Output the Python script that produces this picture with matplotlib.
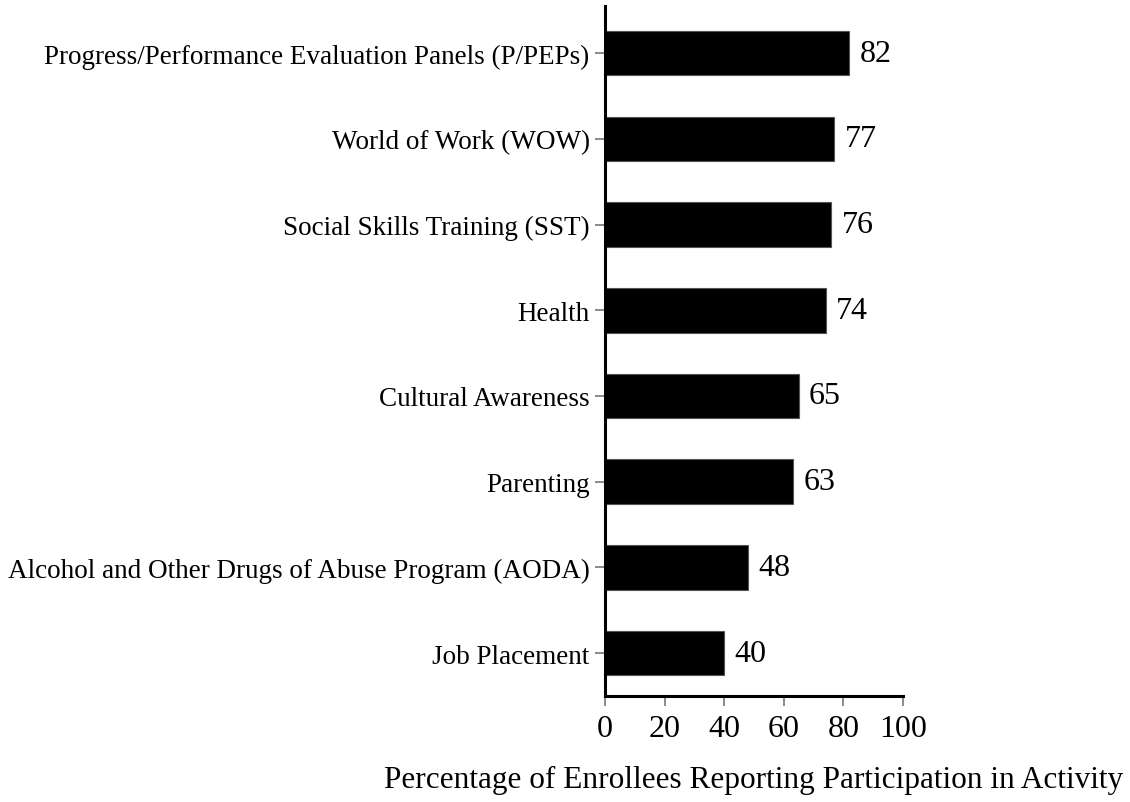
import numpy as np
import matplotlib.pyplot as plt

plt.rcParams['font.family'] = ['Liberation Serif', 'DejaVu Serif']

# activities, bottom to top
activities = ['Job Placement',
              'Alcohol and Other Drugs of Abuse Program (AODA)',
              'Parenting',
              'Cultural Awareness',
              'Health',
              'Social Skills Training (SST)',
              'World of Work (WOW)',
              'Progress/Performance Evaluation Panels (P/PEPs)']
percent = [40, 48, 63, 65, 74, 76, 77, 82]
xticks = [0, 20, 40, 60, 80, 100]

fig = plt.figure(figsize=(11.3, 8.03), dpi=100)
ax = fig.add_axes([0.5354, 0.132, 0.2637, 0.8593])

y = np.arange(len(activities))
ax.barh(y, percent, height=0.52, color='black', edgecolor='#555555', linewidth=0.8)

for yi, v in zip(y, percent):
    ax.text(v + 3.5, yi, str(v), va='center', ha='left', fontsize=23)

ax.set_xlim(0, 100)
ax.set_ylim(-0.5, 7.55)
ax.set_xticks(xticks)
ax.set_xticklabels([str(t) for t in xticks], fontsize=23)
ax.set_yticks(y)
ax.set_yticklabels(activities, fontsize=19.5)

for s in ['top', 'right']:
    ax.spines[s].set_visible(False)
for s in ['left', 'bottom']:
    ax.spines[s].set_linewidth(2.2)
    ax.spines[s].set_color('black')

ax.tick_params(axis='both', direction='out', length=7, width=1.2, color='#777777')
ax.tick_params(axis='x', pad=6)
ax.tick_params(axis='y', pad=4)

ax.set_xlabel('Percentage of Enrollees Reporting Participation in Activity', fontsize=22.5)
ax.xaxis.set_label_coords(0.5, -0.1)

fig.savefig('out.png', dpi=100)
